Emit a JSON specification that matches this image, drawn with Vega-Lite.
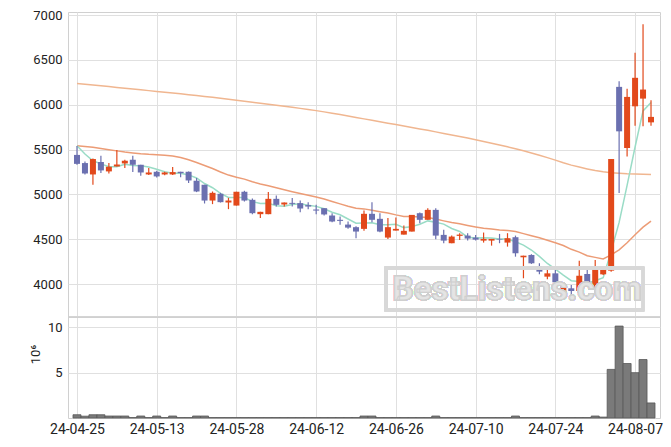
{
  "$schema": "https://vega.github.io/schema/vega-lite/v6.json",
  "autosize": {"type": "fit", "contains": "padding"},
  "width": 671,
  "height": 447,
  "padding": {"left": 29, "top": 9, "right": 10, "bottom": 11},
  "background": "white",
  "config": {
    "font": "Roboto",
    "view": {"stroke": "#d0d0d0"},
    "axis": {"labelFont": "Roboto", "labelFontSize": 13, "labelColor": "#222", "gridColor": "#e0e0e0", "ticks": false, "domain": false, "labelPadding": 6}
  },
  "datasets": {
    "d": [
      {"idx":0,"date":"24-04-25","o":5440,"h":5540,"l":5330,"c":5340,"v":0.36,"ma5":5543,"ma20":5543,"ma120":6236},
      {"idx":1,"date":"24-04-26","o":5349,"h":5367,"l":5222,"c":5233,"v":0.2,"ma5":5450,"ma20":5535,"ma120":6228},
      {"idx":2,"date":"24-04-29","o":5222,"h":5400,"l":5107,"c":5394,"v":0.36,"ma5":5375,"ma20":5525,"ma120":6220},
      {"idx":3,"date":"24-04-30","o":5361,"h":5431,"l":5238,"c":5267,"v":0.36,"ma5":5340,"ma20":5512,"ma120":6211},
      {"idx":4,"date":"24-05-02","o":5256,"h":5349,"l":5233,"c":5308,"v":0.22,"ma5":5308,"ma20":5498,"ma120":6202},
      {"idx":5,"date":"24-05-03","o":5311,"h":5495,"l":5311,"c":5333,"v":0.22,"ma5":5307,"ma20":5485,"ma120":6193},
      {"idx":6,"date":"24-05-07","o":5345,"h":5386,"l":5294,"c":5375,"v":0.22,"ma5":5335,"ma20":5472,"ma120":6184},
      {"idx":7,"date":"24-05-08","o":5386,"h":5431,"l":5249,"c":5330,"v":0.05,"ma5":5323,"ma20":5462,"ma120":6175},
      {"idx":8,"date":"24-05-09","o":5330,"h":5330,"l":5207,"c":5244,"v":0.22,"ma5":5318,"ma20":5453,"ma120":6166},
      {"idx":9,"date":"24-05-10","o":5222,"h":5294,"l":5215,"c":5244,"v":0.05,"ma5":5305,"ma20":5446,"ma120":6157},
      {"idx":10,"date":"24-05-13","o":5252,"h":5263,"l":5188,"c":5200,"v":0.22,"ma5":5279,"ma20":5441,"ma120":6148},
      {"idx":11,"date":"24-05-14","o":5222,"h":5252,"l":5213,"c":5244,"v":0.05,"ma5":5252,"ma20":5436,"ma120":6139},
      {"idx":12,"date":"24-05-16","o":5222,"h":5305,"l":5215,"c":5248,"v":0.22,"ma5":5236,"ma20":5428,"ma120":6130},
      {"idx":13,"date":"24-05-17","o":5252,"h":5252,"l":5192,"c":5237,"v":0.05,"ma5":5235,"ma20":5410,"ma120":6121},
      {"idx":14,"date":"24-05-20","o":5252,"h":5255,"l":5126,"c":5155,"v":0.05,"ma5":5217,"ma20":5385,"ma120":6112},
      {"idx":15,"date":"24-05-21","o":5152,"h":5182,"l":5025,"c":5032,"v":0.22,"ma5":5183,"ma20":5355,"ma120":6102},
      {"idx":16,"date":"24-05-22","o":5107,"h":5107,"l":4898,"c":4931,"v":0.22,"ma5":5121,"ma20":5322,"ma120":6092},
      {"idx":17,"date":"24-05-23","o":4931,"h":5032,"l":4891,"c":5017,"v":0.05,"ma5":5074,"ma20":5288,"ma120":6082},
      {"idx":18,"date":"24-05-24","o":5006,"h":5017,"l":4909,"c":4913,"v":0.05,"ma5":5010,"ma20":5250,"ma120":6071},
      {"idx":19,"date":"24-05-27","o":4909,"h":4961,"l":4835,"c":4931,"v":0.05,"ma5":4965,"ma20":5215,"ma120":6060},
      {"idx":20,"date":"24-05-28","o":4875,"h":5029,"l":4875,"c":5029,"v":0.05,"ma5":4964,"ma20":5190,"ma120":6049},
      {"idx":21,"date":"24-05-29","o":5029,"h":5040,"l":4920,"c":4931,"v":0.05,"ma5":4964,"ma20":5170,"ma120":6038},
      {"idx":22,"date":"24-05-30","o":4939,"h":4954,"l":4779,"c":4790,"v":0.05,"ma5":4919,"ma20":5140,"ma120":6027},
      {"idx":23,"date":"24-05-31","o":4779,"h":4805,"l":4735,"c":4805,"v":0.05,"ma5":4897,"ma20":5115,"ma120":6016},
      {"idx":24,"date":"24-06-03","o":4779,"h":5025,"l":4779,"c":4950,"v":0.05,"ma5":4901,"ma20":5097,"ma120":6005},
      {"idx":25,"date":"24-06-04","o":4950,"h":4987,"l":4864,"c":4883,"v":0.05,"ma5":4872,"ma20":5074,"ma120":5994},
      {"idx":26,"date":"24-06-05","o":4887,"h":4909,"l":4864,"c":4909,"v":0.05,"ma5":4867,"ma20":5051,"ma120":5983},
      {"idx":27,"date":"24-06-07","o":4905,"h":4958,"l":4864,"c":4894,"v":0.05,"ma5":4888,"ma20":5029,"ma120":5971},
      {"idx":28,"date":"24-06-10","o":4902,"h":4931,"l":4801,"c":4842,"v":0.05,"ma5":4896,"ma20":5009,"ma120":5959},
      {"idx":29,"date":"24-06-11","o":4880,"h":4913,"l":4835,"c":4864,"v":0.05,"ma5":4878,"ma20":4990,"ma120":5947},
      {"idx":30,"date":"24-06-12","o":4831,"h":4883,"l":4779,"c":4819,"v":0.05,"ma5":4866,"ma20":4971,"ma120":5934},
      {"idx":31,"date":"24-06-13","o":4846,"h":4846,"l":4764,"c":4776,"v":0.05,"ma5":4839,"ma20":4948,"ma120":5920},
      {"idx":32,"date":"24-06-14","o":4764,"h":4790,"l":4690,"c":4697,"v":0.05,"ma5":4800,"ma20":4920,"ma120":5905},
      {"idx":33,"date":"24-06-17","o":4716,"h":4752,"l":4660,"c":4704,"v":0.05,"ma5":4772,"ma20":4894,"ma120":5890},
      {"idx":34,"date":"24-06-18","o":4663,"h":4697,"l":4615,"c":4629,"v":0.05,"ma5":4725,"ma20":4867,"ma120":5874},
      {"idx":35,"date":"24-06-19","o":4634,"h":4645,"l":4511,"c":4585,"v":0.05,"ma5":4678,"ma20":4845,"ma120":5858},
      {"idx":36,"date":"24-06-20","o":4615,"h":4820,"l":4593,"c":4783,"v":0.22,"ma5":4680,"ma20":4838,"ma120":5842},
      {"idx":37,"date":"24-06-21","o":4783,"h":4913,"l":4690,"c":4716,"v":0.22,"ma5":4683,"ma20":4823,"ma120":5826},
      {"idx":38,"date":"24-06-24","o":4727,"h":4790,"l":4578,"c":4585,"v":0.05,"ma5":4660,"ma20":4806,"ma120":5810},
      {"idx":39,"date":"24-06-25","o":4518,"h":4735,"l":4503,"c":4634,"v":0.05,"ma5":4661,"ma20":4791,"ma120":5794},
      {"idx":40,"date":"24-06-26","o":4596,"h":4741,"l":4596,"c":4615,"v":0.05,"ma5":4667,"ma20":4771,"ma120":5778},
      {"idx":41,"date":"24-06-27","o":4551,"h":4652,"l":4551,"c":4593,"v":0.05,"ma5":4629,"ma20":4754,"ma120":5762},
      {"idx":42,"date":"24-06-28","o":4585,"h":4771,"l":4585,"c":4771,"v":0.05,"ma5":4640,"ma20":4753,"ma120":5746},
      {"idx":43,"date":"24-07-01","o":4790,"h":4797,"l":4679,"c":4716,"v":0.05,"ma5":4666,"ma20":4748,"ma120":5730},
      {"idx":44,"date":"24-07-02","o":4716,"h":4846,"l":4716,"c":4827,"v":0.05,"ma5":4704,"ma20":4742,"ma120":5714},
      {"idx":45,"date":"24-07-03","o":4827,"h":4846,"l":4500,"c":4540,"v":0.22,"ma5":4689,"ma20":4725,"ma120":5697},
      {"idx":46,"date":"24-07-04","o":4548,"h":4604,"l":4455,"c":4484,"v":0.05,"ma5":4668,"ma20":4704,"ma120":5680},
      {"idx":47,"date":"24-07-05","o":4455,"h":4540,"l":4455,"c":4529,"v":0.05,"ma5":4619,"ma20":4685,"ma120":5663},
      {"idx":48,"date":"24-07-08","o":4537,"h":4567,"l":4492,"c":4551,"v":0.05,"ma5":4586,"ma20":4671,"ma120":5646},
      {"idx":49,"date":"24-07-09","o":4540,"h":4567,"l":4484,"c":4507,"v":0.05,"ma5":4522,"ma20":4653,"ma120":5628},
      {"idx":50,"date":"24-07-10","o":4518,"h":4548,"l":4484,"c":4495,"v":0.05,"ma5":4513,"ma20":4637,"ma120":5610},
      {"idx":51,"date":"24-07-11","o":4484,"h":4574,"l":4462,"c":4503,"v":0.05,"ma5":4517,"ma20":4623,"ma120":5590},
      {"idx":52,"date":"24-07-12","o":4484,"h":4503,"l":4428,"c":4503,"v":0.05,"ma5":4512,"ma20":4614,"ma120":5570},
      {"idx":53,"date":"24-07-15","o":4503,"h":4559,"l":4455,"c":4496,"v":0.05,"ma5":4501,"ma20":4603,"ma120":5550},
      {"idx":54,"date":"24-07-16","o":4462,"h":4567,"l":4417,"c":4511,"v":0.05,"ma5":4502,"ma20":4597,"ma120":5530},
      {"idx":55,"date":"24-07-17","o":4522,"h":4540,"l":4305,"c":4343,"v":0.22,"ma5":4471,"ma20":4585,"ma120":5508},
      {"idx":56,"date":"24-07-18","o":4298,"h":4316,"l":4064,"c":4316,"v":0.05,"ma5":4434,"ma20":4562,"ma120":5486},
      {"idx":57,"date":"24-07-19","o":4324,"h":4332,"l":4224,"c":4231,"v":0.05,"ma5":4379,"ma20":4538,"ma120":5462},
      {"idx":58,"date":"24-07-22","o":4193,"h":4231,"l":4108,"c":4138,"v":0.05,"ma5":4308,"ma20":4515,"ma120":5436},
      {"idx":59,"date":"24-07-23","o":4082,"h":4193,"l":4053,"c":4119,"v":0.05,"ma5":4229,"ma20":4489,"ma120":5410},
      {"idx":60,"date":"24-07-24","o":4119,"h":4157,"l":3922,"c":4019,"v":0.05,"ma5":4165,"ma20":4460,"ma120":5382},
      {"idx":61,"date":"24-07-25","o":3885,"h":4008,"l":3885,"c":3989,"v":0.05,"ma5":4099,"ma20":4429,"ma120":5352},
      {"idx":62,"date":"24-07-26","o":3952,"h":3989,"l":3869,"c":3922,"v":0.05,"ma5":4037,"ma20":4387,"ma120":5326},
      {"idx":63,"date":"24-07-29","o":3922,"h":4260,"l":3922,"c":4093,"v":0.05,"ma5":4028,"ma20":4356,"ma120":5304},
      {"idx":64,"date":"24-07-30","o":4112,"h":4157,"l":4008,"c":4019,"v":0.05,"ma5":4008,"ma20":4315,"ma120":5284},
      {"idx":65,"date":"24-07-31","o":3963,"h":4268,"l":3963,"c":4164,"v":0.22,"ma5":4037,"ma20":4297,"ma120":5266},
      {"idx":66,"date":"24-08-01","o":4108,"h":4187,"l":4101,"c":4157,"v":0.1,"ma5":4071,"ma20":4280,"ma120":5252},
      {"idx":67,"date":"24-08-02","o":4149,"h":5394,"l":4138,"c":5394,"v":5.36,"ma5":4365,"ma20":4324,"ma120":5242},
      {"idx":68,"date":"24-08-05","o":6199,"h":6262,"l":5014,"c":5703,"v":10.14,"ma5":4687,"ma20":4381,"ma120":5236},
      {"idx":69,"date":"24-08-06","o":5517,"h":6177,"l":5423,"c":6087,"v":6.01,"ma5":5101,"ma20":4460,"ma120":5231},
      {"idx":70,"date":"24-08-07","o":5982,"h":6579,"l":5766,"c":6300,"v":5.0,"ma5":5528,"ma20":4550,"ma120":5228},
      {"idx":71,"date":"24-08-08","o":6068,"h":6896,"l":5759,"c":6169,"v":6.45,"ma5":5931,"ma20":4634,"ma120":5225},
      {"idx":72,"date":"24-08-09","o":5803,"h":6049,"l":5766,"c":5864,"v":1.66,"ma5":6025,"ma20":4702,"ma120":5222}
    ]
  },
  "data": {"name": "d"},
  "layer": [
    {
      "mark": {"type": "bar", "size": 8, "fill": "#7a7a7a", "stroke": "#585858", "strokeWidth": 0.8},
      "encoding": {
        "x": {"field": "idx", "type": "quantitative", "scale": {"domain": [-0.5, 72.5], "nice": false, "zero": false},
              "axis": {"values": [0,10,20,30,40,50,60,70], "title": null, "grid": true, "labelFontSize": 14, "labelPadding": 4,
                       "labelExpr": "['24-04-25','24-05-13','24-05-28','24-06-12','24-06-26','24-07-10','24-07-24','24-08-07'][round(datum.value/10)]"}},
        "y": {"field": "v", "type": "quantitative", "scale": {"domain": [0, 44.78], "nice": false},
              "axis": {"orient": "left", "values": [5, 10], "title": "10⁶", "titleFont": "Roboto", "titleFontSize": 13, "titleFontWeight": "normal", "titleColor": "#222", "titleX": -33, "titleY": 342, "titleAngle": -90, "titleAlign": "center", "titleBaseline": "middle", "grid": true}}
      }
    },
    {
      "layer": [
        {"mark": {"type": "rule", "color": "#d0d0d0", "strokeWidth": 1},
         "encoding": {"y": {"datum": 3628, "type": "quantitative", "scale": {"domain": [2505.5, 7034], "nice": false, "zero": false},
                            "axis": {"orient": "left", "values": [4000,4500,5000,5500,6000,6500,7000], "format": "d", "title": null, "grid": true}}}},
        {"mark": {"type": "line", "color": "#f0b690", "strokeWidth": 1.5},
         "encoding": {"x": {"field": "idx", "type": "quantitative", "title": null}, "y": {"field": "ma120", "type": "quantitative"}}},
        {"mark": {"type": "line", "color": "#ec9c76", "strokeWidth": 1.5},
         "encoding": {"x": {"field": "idx", "type": "quantitative", "title": null}, "y": {"field": "ma20", "type": "quantitative"}}},
        {"mark": {"type": "line", "color": "#9adcc6", "strokeWidth": 1.5},
         "encoding": {"x": {"field": "idx", "type": "quantitative", "title": null}, "y": {"field": "ma5", "type": "quantitative"}}},
        {"mark": {"type": "rule", "strokeWidth": 1.2},
         "encoding": {"x": {"field": "idx", "type": "quantitative", "title": null}, "y": {"field": "l", "type": "quantitative"}, "y2": {"field": "h"},
                      "color": {"condition": {"test": "datum.c >= datum.o", "value": "#e2491b"}, "value": "#6b70b0"}}},
        {"mark": {"type": "bar", "size": 6},
         "encoding": {"x": {"field": "idx", "type": "quantitative", "title": null}, "y": {"field": "o", "type": "quantitative"}, "y2": {"field": "c"},
                      "color": {"condition": {"test": "datum.c >= datum.o", "value": "#e2491b"}, "value": "#6b70b0"}}},
        {"mark": {"type": "rect", "fill": null, "stroke": "#d8d8d8", "strokeWidth": 2.5},
         "encoding": {"x": {"datum": 38.75}, "x2": {"datum": 71}, "y": {"datum": 4179}, "y2": {"datum": 3709}}},
        {"mark": {"type": "text", "text": "BestListens.com", "font": "Roboto", "fontWeight": "bold", "fontSize": 33, "fill": "#e4e4e4", "stroke": "#cfcfcf", "strokeWidth": 1, "opacity": 0.85, "align": "center", "baseline": "middle"},
         "encoding": {"x": {"datum": 55.2}, "y": {"datum": 3933}}}
      ]
    }
  ],
  "resolve": {"scale": {"y": "independent"}, "axis": {"y": "independent"}}
}
